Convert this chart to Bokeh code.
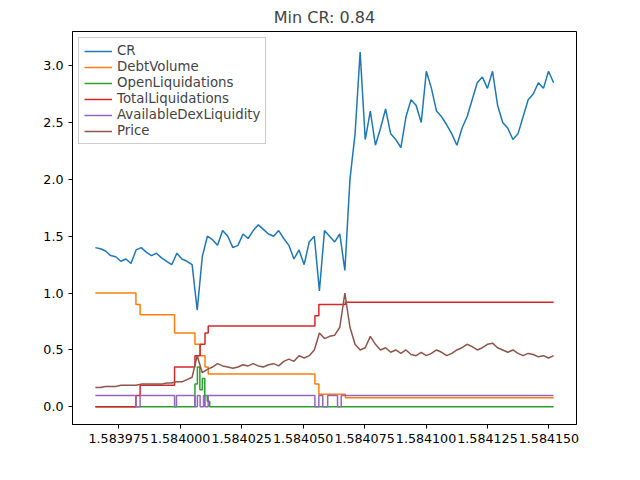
import numpy as np
from bokeh.plotting import figure
from bokeh.models import FixedTicker, Label, Legend
from bokeh.embed import file_html
from bokeh.resources import INLINE

# time axis in units of 1e9 (axis shows x/1e6 with "1e15" offset)
t_start, t_end = 1583965.5, 1584151.9

cr = [1.40, 1.39, 1.37, 1.33, 1.32, 1.28, 1.30, 1.26, 1.38, 1.40, 1.36, 1.33, 1.35, 1.31, 1.28, 1.25,
      1.35, 1.30, 1.28, 1.25, 0.85, 1.32, 1.50, 1.47, 1.42, 1.55, 1.50, 1.40, 1.42, 1.52, 1.48, 1.55,
      1.60, 1.56, 1.52, 1.50, 1.55, 1.48, 1.42, 1.30, 1.38, 1.25, 1.45, 1.50, 1.02, 1.55, 1.50, 1.45,
      1.52, 1.20, 2.00, 2.40, 3.12, 2.35, 2.60, 2.30, 2.45, 2.62, 2.40, 2.35, 2.28, 2.55, 2.70, 2.65,
      2.50, 2.95, 2.80, 2.60, 2.55, 2.48, 2.40, 2.30, 2.45, 2.55, 2.70, 2.85, 2.90, 2.80, 2.95, 2.65,
      2.50, 2.45, 2.35, 2.40, 2.55, 2.70, 2.75, 2.85, 2.80, 2.95, 2.85]
price = [0.17, 0.17, 0.18, 0.18, 0.18, 0.19, 0.19, 0.19, 0.19, 0.20, 0.20, 0.20, 0.20, 0.20, 0.21, 0.21,
         0.22, 0.22, 0.24, 0.26, 0.45, 0.30, 0.33, 0.35, 0.38, 0.36, 0.35, 0.34, 0.35, 0.37, 0.36, 0.38,
         0.36, 0.35, 0.37, 0.38, 0.36, 0.40, 0.42, 0.40, 0.45, 0.43, 0.45, 0.50, 0.65, 0.60, 0.62, 0.63,
         0.70, 1.00, 0.70, 0.55, 0.50, 0.52, 0.62, 0.55, 0.50, 0.52, 0.48, 0.50, 0.47, 0.50, 0.46, 0.45,
         0.48, 0.45, 0.47, 0.50, 0.48, 0.45, 0.47, 0.50, 0.52, 0.55, 0.53, 0.50, 0.52, 0.55, 0.56, 0.52,
         0.50, 0.48, 0.50, 0.47, 0.45, 0.47, 0.46, 0.44, 0.45, 0.43, 0.45]
t_series = np.linspace(t_start, t_end, len(cr))

debt_t = [1583965.5, 1583982.0, 1583983.7, 1583997.7, 1584006.0, 1584008.1, 1584010.1, 1584011.4,
          1584054.8, 1584056.4, 1584067.2, 1584151.9]
debt_v = [1.0, 0.9, 0.81, 0.65, 0.55, 0.45, 0.35, 0.29, 0.2, 0.11, 0.08, 0.08]
total_v = [0.0, 0.1, 0.19, 0.35, 0.45, 0.55, 0.65, 0.71, 0.8, 0.9, 0.92, 0.92]

open_t = [1583965.5, 1584006.0, 1584007.0, 1584008.0, 1584009.0, 1584010.0, 1584011.0, 1584012.0, 1584151.9]
open_v = [0.0, 0.2, 0.35, 0.15, 0.25, 0.1, 0.05, 0.0, 0.0]

dex_t = [1583965.5, 1583982.0, 1583983.7, 1583997.7, 1583998.5, 1584006.0, 1584007.0, 1584008.1,
         1584009.5, 1584010.1, 1584011.4, 1584054.8, 1584056.4, 1584058.0, 1584060.0, 1584064.0,
         1584065.5, 1584067.2, 1584151.9]
dex_v = [0.1, 0.0, 0.1, 0.0, 0.1, 0.0, 0.1, 0.0, 0.1, 0.0, 0.1, 0.0, 0.1, 0.0, 0.1, 0.0, 0.1, 0.1, 0.1]

xticks = [1583975, 1584000, 1584025, 1584050, 1584075, 1584100, 1584125, 1584150]

p = figure(width=624, height=464, output_backend="svg", toolbar_location=None,
           x_range=(t_start - 9.3, t_end + 9.3), y_range=(-0.155, 3.3),
           title="Min CR: 0.84", min_border_left=72, min_border_right=48,
           min_border_top=20, min_border_bottom=40)
p.title.align = "center"
p.title.text_font = "DejaVu Sans"
p.title.text_font_size = "12pt"
p.title.text_font_style = "normal"
p.title.offset = 0
p.grid.visible = False
p.outline_line_color = "black"

colors = ["#1f77b4", "#ff7f0e", "#2ca02c", "#d62728", "#9467bd", "#8c564b"]
items = []
r = p.line(t_series, cr, color=colors[0], line_width=1.5)
items.append(("CR", [r]))
r = p.step(debt_t, debt_v, mode="after", color=colors[1], line_width=1.5)
items.append(("DebtVolume", [r]))
r = p.step(open_t, open_v, mode="after", color=colors[2], line_width=1.5)
items.append(("OpenLiquidations", [r]))
r = p.step(debt_t, total_v, mode="after", color=colors[3], line_width=1.5)
items.append(("TotalLiquidations", [r]))
r = p.step(dex_t, dex_v, mode="after", color=colors[4], line_width=1.5)
items.append(("AvailableDexLiquidity", [r]))
r = p.line(t_series, price, color=colors[5], line_width=1.5)
items.append(("Price", [r]))

leg = Legend(items=items, location="top_left", label_text_font="DejaVu Sans",
             label_text_font_size="10pt", glyph_height=14, glyph_width=28,
             label_height=14, spacing=1, padding=5, margin=6,
             border_line_color="#cccccc", border_line_alpha=1)
p.add_layout(leg)

p.xaxis.ticker = FixedTicker(ticks=xticks)
p.xaxis.major_label_overrides = {t: "%.6f" % (t / 1e6) for t in xticks}
p.yaxis.ticker = FixedTicker(ticks=[0, 0.5, 1.0, 1.5, 2.0, 2.5, 3.0])
p.yaxis.major_label_overrides = {0: "0.0", 0.5: "0.5", 1.0: "1.0", 1.5: "1.5", 2.0: "2.0", 2.5: "2.5", 3.0: "3.0"}
for ax in (p.xaxis, p.yaxis):
    ax.minor_tick_line_color = None
    ax.major_tick_in = 0
    ax.major_tick_out = 4
    ax.major_label_text_font = "DejaVu Sans"
    ax.major_label_text_font_size = "9.5pt"
    ax.major_label_text_color = "black"

p.add_layout(Label(x=495, y=-38, x_units="screen", y_units="screen", text="1e15",
                   text_font="DejaVu Sans", text_font_size="9.5pt", text_align="right"))

open("out.html", "w").write(file_html(p, INLINE))
